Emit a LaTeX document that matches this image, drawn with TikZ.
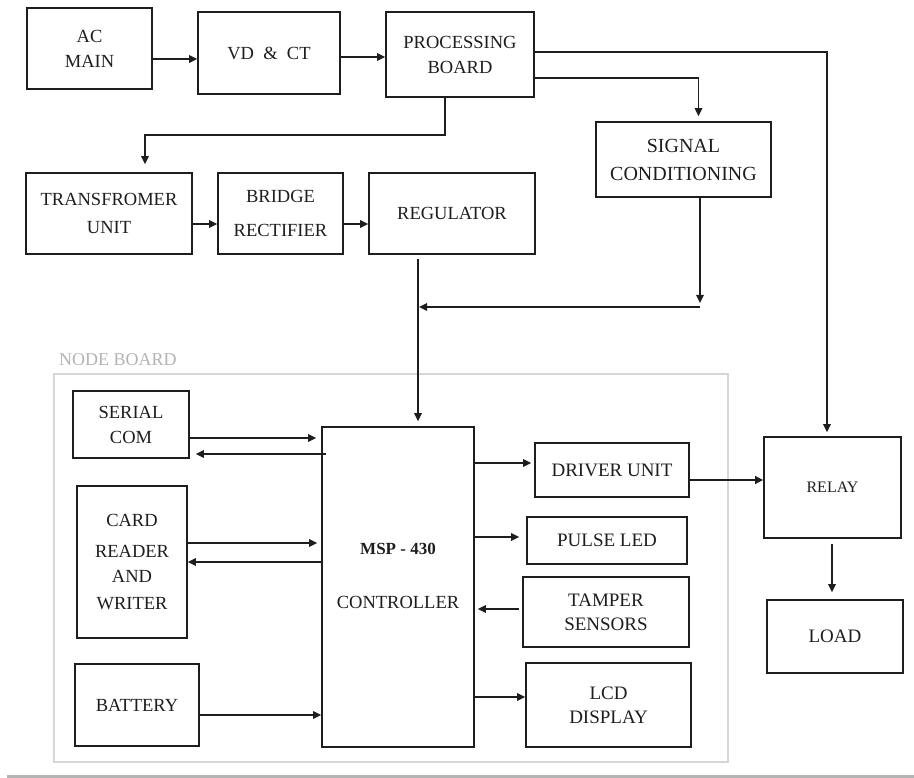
\documentclass[tikz,border=0pt]{standalone}
\usepackage{fontspec}
\setmainfont{Liberation Serif}
\usetikzlibrary{arrows.meta}
\definecolor{ink}{HTML}{1E1E1E}
\definecolor{frame}{HTML}{D6D6D6}
\definecolor{lbl}{HTML}{B4B4B4}
\begin{document}
\begin{tikzpicture}[x=1pt,y=-1pt,
  box/.style={draw=ink,line width=1.6pt,align=center,inner sep=0pt,text=ink,
    font=\fontsize{18.5}{25}\selectfont},
  plain/.style={align=center,inner sep=0pt,text=ink,font=\fontsize{18.5}{25}\selectfont},
  arr/.style={draw=ink,line width=1.6pt,-{Triangle[length=8pt,width=7.5pt]}},
]
\useasboundingbox (0,0) rectangle (914,778);
\fill[white] (0,0) rectangle (914,778);

% node board frame
\node[draw=frame,line width=1.2pt,minimum width=674pt,minimum height=388pt,inner sep=0pt] (nb) at (391,568) {};
\node[anchor=west,inner sep=0pt,text=lbl,font=\fontsize{18}{22}\selectfont] (nblabel) at (59,360) {NODE BOARD};
\draw[lbl,line width=3pt] (7,776) -- (914,776);

% top row
\node[box,minimum width=125pt,minimum height=81pt] (acmain) at (89.5,48.5) {AC\\MAIN};
\node[box,minimum width=142pt,minimum height=82pt] (vdct) at (269,53) {VD\ \ \&\ \ CT};
\node[box,minimum width=148pt,minimum height=85pt] (pb) at (460,54.5) {PROCESSING\\BOARD};
\node[box,minimum width=175pt,minimum height=75pt,font=\fontsize{20}{25}\selectfont] (sc) at (683.5,159.5) {SIGNAL\\[3pt]CONDITIONING};

% second row
\node[box,minimum width=166pt,minimum height=81pt] (trans) at (109,213.5) {TRANSFROMER\\[3pt]UNIT};
\node[box,minimum width=125pt,minimum height=81pt] (bridge) at (280.5,213.5) {BRIDGE\\[9pt]RECTIFIER};
\node[box,minimum width=166pt,minimum height=81pt] (reg) at (452,213.5) {REGULATOR};

% node board contents
\node[box,minimum width=116pt,minimum height=67pt] (serial) at (131,424.5) {SERIAL\\COM};
\node[box,minimum width=110pt,minimum height=152pt] (card) at (132,562) {CARD\\[6pt]READER\\AND\\[2pt]WRITER};
\node[box,minimum width=124pt,minimum height=82pt] (battery) at (137,705) {BATTERY};
\node[box,minimum width=152pt,minimum height=320pt] (ctrl) at (398,587) {};
\node[plain] (ctrltext) at (398,576) {{\fontsize{17}{25}\selectfont\bfseries MSP - 430}\\[29pt]CONTROLLER};
\node[box,minimum width=154pt,minimum height=54pt,font=\fontsize{19}{25}\selectfont] (driver) at (612,470) {DRIVER UNIT};
\node[box,minimum width=160pt,minimum height=47pt,font=\fontsize{19}{25}\selectfont] (pulse) at (607,540.5) {PULSE LED};
\node[box,minimum width=166pt,minimum height=70pt,font=\fontsize{19}{24}\selectfont] (tamper) at (606,612) {TAMPER\\SENSORS};
\node[box,minimum width=165pt,minimum height=84pt,font=\fontsize{19}{24}\selectfont] (lcd) at (608.5,705) {LCD\\DISPLAY};

% right column
\node[box,minimum width=137pt,minimum height=101pt,font=\fontsize{16}{20}\selectfont] (relay) at (832.5,487.5) {RELAY};
\node[box,minimum width=136pt,minimum height=73pt,font=\fontsize{19}{24}\selectfont] (load) at (835,636.5) {LOAD};

% connectors
\draw[arr] (acmain.east |- 0,59) -- (vdct.west |- 0,59);
\draw[arr] (vdct.east |- 0,57) -- (pb.west |- 0,57);
\draw[arr,shorten >=4pt] (pb.east |- 0,52) -| ([xshift=-5.5pt]relay.north);
\draw[arr,shorten >=5pt] (pb.east |- 0,78) -| ([xshift=15pt]sc.north);
\draw[arr,shorten >=8pt] (pb.south -| 445,0) |- (145,135) -- (trans.north -| 145,0);
\draw[arr] (trans.east |- 0,224) -- (bridge.west |- 0,224);
\draw[arr] (bridge.east |- 0,224) -- (reg.west |- 0,224);
\draw[arr,shorten <=4pt,shorten >=5pt] (reg.south -| 418,0) -- (ctrl.north -| 418,0);
\coordinate (scdrop) at (700,303);
\coordinate (scturn) at (700,307);
\coordinate (scend) at (419,307);
\draw[arr] (sc.south -| 700,0) -- (scdrop);
\draw[arr] (scturn) -- (scend);

\draw[arr,shorten >=5pt] (serial.east |- 0,438) -- (ctrl.west |- 0,438);
\draw[arr,shorten <=-5pt,shorten >=6pt] (ctrl.west |- 0,454) -- (serial.east |- 0,454);
\draw[arr,shorten >=4pt] (card.east |- 0,543) -- (ctrl.west |- 0,543);
\draw[arr] (ctrl.west |- 0,562) -- (card.east |- 0,562);
\draw[arr] (battery.east |- 0,715) -- (ctrl.west |- 0,715);

\draw[arr,shorten >=3pt] (ctrl.east |- 0,463) -- (driver.west |- 0,463);
\draw[arr,shorten >=7pt] (ctrl.east |- 0,537) -- (pulse.west |- 0,537);
\draw[arr,shorten <=3pt,shorten >=3pt] (tamper.west |- 0,609) -- (ctrl.east |- 0,609);
\draw[arr] (ctrl.east |- 0,697) -- (lcd.west |- 0,697);
\draw[arr,line width=2.4pt] (driver.east |- 0,480) -- (relay.west |- 0,480);
\draw[arr,shorten <=5pt,shorten >=7pt] (relay.south -| 832,0) -- (load.north -| 832,0);
\end{tikzpicture}
\end{document}
